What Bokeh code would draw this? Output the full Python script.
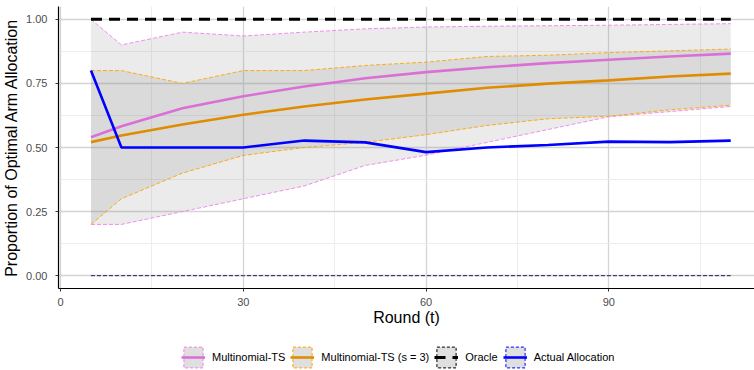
from bokeh.plotting import figure
from bokeh.layouts import column
from bokeh.models import FixedTicker, Legend, LegendItem, NumeralTickFormatter, Range1d
from bokeh.embed import file_html
from bokeh.resources import INLINE

# ---- data ----
rounds = [5, 10, 20, 30, 40, 50, 60, 70, 80, 90, 100, 110]

mts_mean = [0.540, 0.583, 0.653, 0.700, 0.738, 0.770, 0.794, 0.813, 0.829, 0.842, 0.855, 0.866]
mts_lower = [0.20, 0.20, 0.25, 0.30, 0.35, 0.43, 0.47, 0.52, 0.57, 0.62, 0.64, 0.66]
mts_upper = [1.00, 0.90, 0.95, 0.935, 0.95, 0.963, 0.970, 0.973, 0.975, 0.977, 0.980, 0.983]

mts3_mean = [0.521, 0.547, 0.590, 0.628, 0.660, 0.687, 0.710, 0.733, 0.749, 0.762, 0.777, 0.788]
mts3_lower = [0.20, 0.30, 0.40, 0.469, 0.50, 0.52, 0.55, 0.586, 0.612, 0.622, 0.647, 0.665]
mts3_upper = [0.80, 0.80, 0.75, 0.80, 0.80, 0.82, 0.833, 0.855, 0.860, 0.870, 0.877, 0.884]

actual = [0.80, 0.50, 0.50, 0.50, 0.527, 0.520, 0.482, 0.500, 0.510, 0.523, 0.521, 0.527]
oracle = [1.0] * len(rounds)
floor_line = [0.0] * len(rounds)

x_ticks = [0, 30, 60, 90]
x_minor = [15, 45, 75, 105]
y_ticks = [0, 0.25, 0.5, 0.75, 1.0]
y_minor = [0.125, 0.375, 0.625, 0.875]

labels = ["Multinomial-TS", "Multinomial-TS (s = 3)", "Oracle", "Actual Allocation"]
series_means = [mts_mean, mts3_mean, oracle, actual]
line_colors = ["orchid", "#DF8C00", "black", "blue"]
box_colors = ["violet", "orange", "black", "blue"]

FONT = "Liberation Sans"

p = figure(width=754, height=330, output_backend="svg", toolbar_location=None,
           x_range=Range1d(-0.33, 113.9), y_range=Range1d(-0.05, 1.05),
           min_border_left=58, min_border_right=0, min_border_top=6, min_border_bottom=42)
p.outline_line_color = None
p.background_fill_color = "white"
p.border_fill_color = "white"

# ribbons
p.varea(x=rounds, y1=mts_lower, y2=mts_upper, fill_color="#808080", fill_alpha=0.16)
p.varea(x=rounds, y1=mts3_lower, y2=mts3_upper, fill_color="#808080", fill_alpha=0.16)

# ribbon edges
for arr in (mts_lower, mts_upper):
    p.line(rounds, arr, line_color="violet", line_width=0.9, line_dash="4 2")
for arr in (mts3_lower, mts3_upper):
    p.line(rounds, arr, line_color="orange", line_width=0.9, line_dash="4 2")

p.line(rounds, floor_line, line_color="#1a1a70", line_width=1.0, line_dash="4 2")

p.line(rounds, mts_mean, line_color=line_colors[0], line_width=2.6)
p.line(rounds, mts3_mean, line_color=line_colors[1], line_width=2.6)
p.line(rounds, oracle, line_color=line_colors[2], line_width=3.0, line_dash="11 7")
p.line(rounds, actual, line_color=line_colors[3], line_width=2.6)

# axes
p.xaxis.ticker = FixedTicker(ticks=x_ticks, minor_ticks=x_minor)
p.yaxis.ticker = FixedTicker(ticks=y_ticks, minor_ticks=y_minor)
p.yaxis.formatter = NumeralTickFormatter(format="0.00")
p.xaxis.axis_label = "Round (t)"
p.yaxis.axis_label = "Proportion of Optimal Arm Allocation"
for ax in (p.xaxis[0], p.yaxis[0]):
    ax.axis_line_color = "black"
    ax.axis_line_width = 1.2
    ax.major_tick_line_color = "#333333"
    ax.major_tick_out = 3
    ax.major_tick_in = 0
    ax.minor_tick_line_color = None
    ax.major_label_text_font = FONT
    ax.major_label_text_font_size = "11px"
    ax.major_label_text_color = "#4d4d4d"
    ax.axis_label_text_font = FONT
    ax.axis_label_text_font_size = "16px"
    ax.axis_label_text_font_style = "normal"
    ax.axis_label_text_color = "black"
p.xaxis.major_label_standoff = 5
p.xaxis.axis_label_standoff = 0
p.yaxis.major_label_standoff = 7
p.yaxis.axis_label_standoff = 3

p.grid.grid_line_color = "#d4d4d4"
p.grid.grid_line_width = 1.3
p.grid.minor_grid_line_color = "#ebebeb"
p.grid.minor_grid_line_width = 0.9

# ---- legend strip below the plot (its glyphs sit outside its own ranges) ----
lf = figure(width=754, height=40, output_backend="svg", toolbar_location=None,
            x_range=Range1d(-2, -1), y_range=Range1d(-2, -1),
            x_axis_location=None, y_axis_location=None,
            min_border_left=0, min_border_right=0, min_border_top=0, min_border_bottom=0)
lf.grid.visible = False
lf.outline_line_color = None
lf.border_fill_color = "white"
lf.background_fill_color = "white"

items = []
for lab, ys, bc, lc in zip(labels, series_means, box_colors, line_colors):
    box = lf.rect(x=rounds, y=ys, width=1, height=0.1, fill_color="#808080", fill_alpha=0.25,
                  line_color=bc, line_width=1, line_dash="3 2")
    if lc == "black":
        ln = lf.line(x=rounds, y=ys, line_color=lc, line_width=3.0, line_dash="11 7")
    else:
        ln = lf.line(x=rounds, y=ys, line_color=lc, line_width=2.6)
    items.append(LegendItem(label=lab, renderers=[box, ln]))

legend = Legend(items=items, orientation="horizontal", location=(123, 0),
                glyph_width=24, glyph_height=26, label_standoff=7, spacing=5,
                padding=0, margin=0, border_line_color=None, background_fill_alpha=0,
                label_text_font=FONT, label_text_font_size="11px", label_text_color="black")
lf.add_layout(legend)

layout = column(p, lf, spacing=0)
open("out.html", "w").write(file_html(layout, INLINE))
